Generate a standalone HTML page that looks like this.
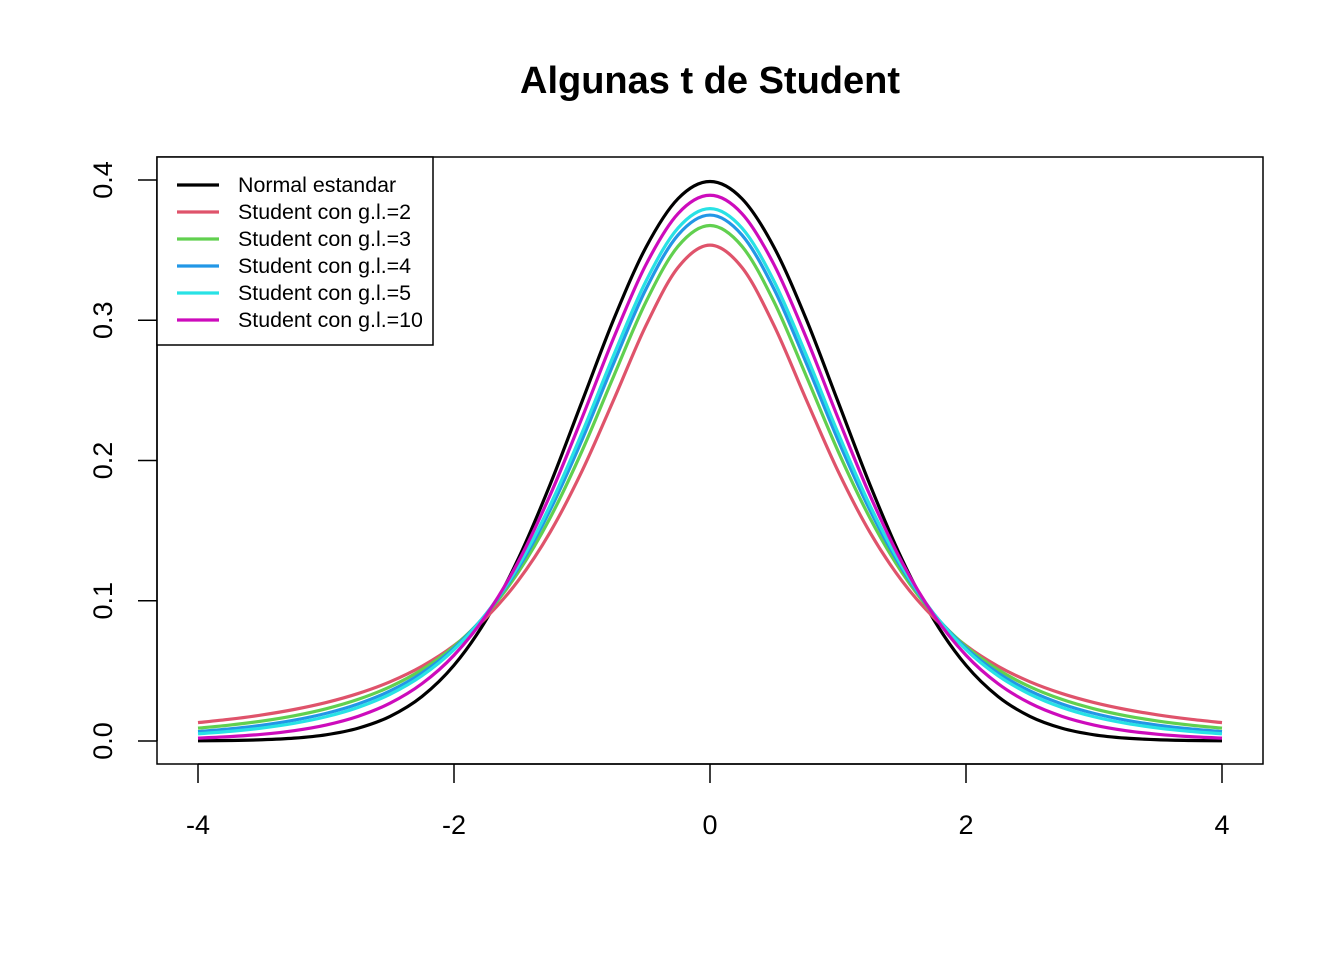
<!DOCTYPE html>
<html><head><meta charset="utf-8"><style>
html,body{margin:0;padding:0;background:#fff;}
svg{display:block;font-family:"Liberation Sans",Arial,sans-serif;}
</style></head><body>
<svg id="chart" width="1344" height="960" viewBox="0 0 1344 960">
<rect width="1344" height="960" fill="#fff"/>
<text x="710" y="93" text-anchor="middle" font-size="38" font-weight="bold">Algunas t de Student</text>
<rect x="157" y="157" width="1106" height="607" fill="none" stroke="#000" stroke-width="1.5"/>
<g id="axes"></g>
<g id="series"></g>
<g>
<rect x="157" y="157" width="276" height="188" fill="#fff" stroke="#000" stroke-width="1.5"/>
<g id="legend-entries"></g>
</g>
</svg>
<script>
const xValues = [-4,-3.75,-3.5,-3.25,-3,-2.75,-2.5,-2.25,-2,-1.75,-1.5,-1.25,-1,-0.75,-0.5,-0.25,0,0.25,0.5,0.75,1,1.25,1.5,1.75,2,2.25,2.5,2.75,3,3.25,3.5,3.75,4];
const normalVals = [.00013,.00035,.00087,.00203,.00443,.00909,.01753,.03174,.05399,.08628,.12952,.18265,.24197,.30114,.35207,.38667,.39894,.38667,.35207,.30114,.24197,.18265,.12952,.08628,.05399,.03174,.01753,.00909,.00443,.00203,.00087,.00035,.00013];
const t2Vals = [.01309,.01553,.01859,.02246,.02741,.03382,.04220,.05328,.06804,.08779,.11413,.14872,.19245,.24378,.29630,.33760,.35355,.33760,.29630,.24378,.19245,.14872,.11413,.08779,.06804,.05328,.04220,.03382,.02741,.02246,.01859,.01553,.01309];
const t3Vals = [.00916,.01136,.01422,.01798,.02297,.02965,.03866,.05089,.06751,.09000,.12002,.15891,.20675,.26064,.31318,.35270,.36755,.35270,.31318,.26064,.20675,.15891,.12002,.09000,.06751,.05089,.03866,.02965,.02297,.01798,.01422,.01136,.00916];
const t4Vals = [.00671,.00865,.01127,.01483,.01969,.02640,.03567,.04853,.06629,.09053,.12288,.16444,.21466,.26988,.32226,.36074,.37500,.36074,.32226,.26988,.21466,.16444,.12288,.09053,.06629,.04853,.03567,.02640,.01969,.01483,.01127,.00865,.00671];
const t5Vals = [.00512,.00685,.00924,.01259,.01729,.02393,.03333,.04657,.06509,.09054,.12452,.16790,.21968,.27570,.32792,.36572,.37961,.36572,.32792,.27570,.21968,.16790,.12452,.09054,.06509,.04657,.03333,.02393,.01729,.01259,.00924,.00685,.00512];
const t10Vals = [.00203,.00311,.00478,.00738,.01140,.01757,.02694,.04089,.06115,.08953,.12745,.17511,.23036,.28798,.33970,.37600,.38911,.37600,.33970,.28798,.23036,.17511,.12745,.08953,.06115,.04089,.02694,.01757,.01140,.00738,.00478,.00311,.00203];
const xTicks = [-4,-2,0,2,4];
const yTicks = [0,0.1,0.2,0.3,0.4];
const seriesLabels = ["Normal estandar","Student con g.l.=2","Student con g.l.=3","Student con g.l.=4","Student con g.l.=5","Student con g.l.=10"];
const seriesColors = ["#000000","#DF536B","#61D04F","#2297E6","#28E2E5","#CD0BBC"];
const seriesData = [normalVals,t2Vals,t3Vals,t4Vals,t5Vals,t10Vals];

const NS="http://www.w3.org/2000/svg";
const xs = v => 198 + (v + 4) * 128;
const ys = v => 741 - v * 1402.5;
function mk(tag, attrs, parent){const e=document.createElementNS(NS,tag);for(const k in attrs)e.setAttribute(k,attrs[k]);parent.appendChild(e);return e;}
const axes=document.getElementById('axes');
mk('line',{x1:xs(xTicks[0]),x2:xs(xTicks[xTicks.length-1]),y1:764,y2:764,stroke:'#000','stroke-width':1.5},axes);
xTicks.forEach(t=>{
  const l=mk('line',{x1:xs(t),x2:xs(t),y1:764,y2:783,stroke:'#000','stroke-width':1.5},axes);
  
  
  const tx=mk('text',{x:xs(t),y:834,'text-anchor':'middle','font-size':27},axes);
  tx.textContent=String(t);
  
  
});
yTicks.forEach(t=>{
  const l=mk('line',{x1:138,x2:157,y1:ys(t),y2:ys(t),stroke:'#000','stroke-width':1.5},axes);
  
  
  const tx=mk('text',{x:0,y:0,'text-anchor':'middle','font-size':27,transform:`translate(112,${ys(t)}) rotate(-90)`},axes);
  tx.textContent=t.toFixed(1);
  
  
});
mk('line',{x1:157,x2:157,y1:ys(yTicks[0]),y2:ys(yTicks[yTicks.length-1]),stroke:'#000','stroke-width':1.5},axes);
function smoothPath(pts){
  let d=`M${pts[0][0]},${pts[0][1]}`;
  for(let i=0;i<pts.length-1;i++){
    const p0=pts[Math.max(0,i-1)],p1=pts[i],p2=pts[i+1],p3=pts[Math.min(pts.length-1,i+2)];
    const c1=[p1[0]+(p2[0]-p0[0])/6,p1[1]+(p2[1]-p0[1])/6];
    const c2=[p2[0]-(p3[0]-p1[0])/6,p2[1]-(p3[1]-p1[1])/6];
    d+=` C${c1[0]},${c1[1]} ${c2[0]},${c2[1]} ${p2[0]},${p2[1]}`;
  }
  return d;
}
const sg=document.getElementById('series');
seriesData.forEach((vals,i)=>{
  const pts=vals.map((v,j)=>[xs(xValues[j]),ys(v)]);
  const p=mk('path',{d:smoothPath(pts),fill:'none',stroke:seriesColors[i],'stroke-width':3.2,'stroke-linejoin':'round'},sg);
  
  
});
const lg=document.getElementById('legend-entries');
seriesLabels.forEach((lab,i)=>{
  const y=185+i*27;
  const g=mk('g',{},lg);
  
  
  mk('line',{x1:177,x2:219,y1:y,y2:y,stroke:seriesColors[i],'stroke-width':3.2},g);
  const t=mk('text',{x:238,y:y+7,'font-size':21.4},g);
  t.textContent=lab;
});
</script>
</body></html>
